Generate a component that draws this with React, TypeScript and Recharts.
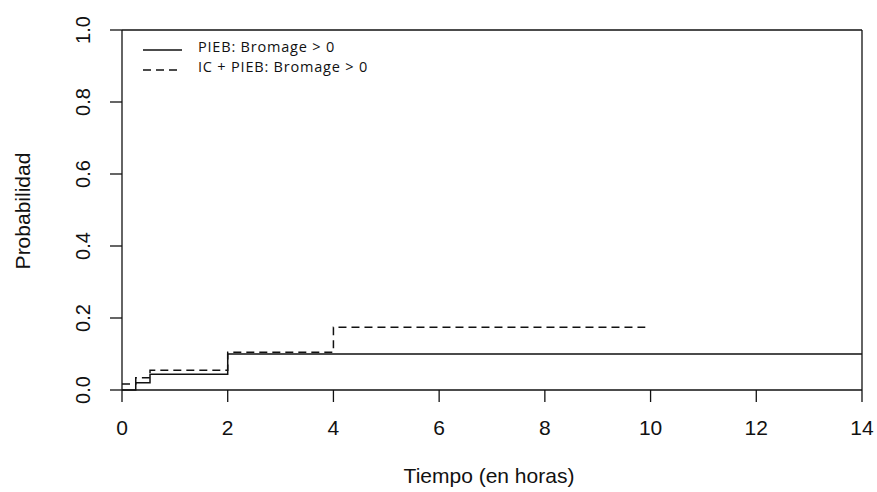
import React from 'react'
import { LineChart, Line, XAxis, YAxis, ReferenceLine, Legend } from 'recharts'

// Cumulative probability of Bromage > 0 over time (hours)
const piebTimes = [0, 0.26, 0.53, 2, 14]
const piebProb = [0, 0.02, 0.044, 0.1, 0.1]

const icPiebTimes = [0, 0.26, 0.53, 2, 4, 9.9]
const icPiebProb = [0.017, 0.034, 0.055, 0.105, 0.174, 0.174]

const seriesNames = ['PIEB: Bromage > 0', 'IC + PIEB: Bromage > 0']

const xTicks = [0, 2, 4, 6, 8, 10, 12, 14]
const yTicks = [0, 0.2, 0.4, 0.6, 0.8, 1.0]

const piebData = piebTimes.map((t, i) => ({ t, p: piebProb[i] }))
const icPiebData = icPiebTimes.map((t, i) => ({ t, p: icPiebProb[i] }))

const AXIS_FONT = 'Liberation Sans, Arial, sans-serif'
const INK = '#111'

const XTick = ({ x, y, payload }: any) => (
  <text x={x} y={y + 33} textAnchor="middle" fontSize={21} fontFamily={AXIS_FONT} fill={INK}>
    {payload.value}
  </text>
)

const YTick = ({ x, y, payload }: any) => (
  <text
    x={x - 20}
    y={y}
    transform={`rotate(-90, ${x - 20}, ${y})`}
    textAnchor="middle"
    fontSize={20}
    fontFamily={AXIS_FONT}
    fill={INK}
  >
    {Number(payload.value).toFixed(1)}
  </text>
)

const XTitle = () => (
  <text x={489} y={483} textAnchor="middle" fontSize={21} fontFamily={AXIS_FONT} fill={INK}>
    Tiempo (en horas)
  </text>
)

const YTitle = () => (
  <text x={30} y={211} transform="rotate(-90, 30, 211)" textAnchor="middle" fontSize={21} fontFamily={AXIS_FONT} fill={INK}>
    Probabilidad
  </text>
)

const LegendBox = ({ payload }: any) => {
  const items = [...(payload || [])].sort(
    (a: any, b: any) => seriesNames.indexOf(a.value) - seriesNames.indexOf(b.value)
  )
  return (
    <svg width={300} height={50}>
      {items.map((item: any, i: number) => (
        <g key={item.value} transform={`translate(0, ${i * 20})`}>
          <line
            x1={13}
            x2={52}
            y1={12}
            y2={12}
            stroke={INK}
            strokeWidth={1.4}
            strokeDasharray={item.payload?.strokeDasharray}
          />
          <text x={68} y={14} fontSize={14.5} letterSpacing={0.8} fontFamily="Open Sans, sans-serif" fill={INK}>
            {item.value}
          </text>
        </g>
      ))}
    </svg>
  )
}

export default function App() {
  return (
    <div style={{ position: 'absolute', left: 0, top: 0, background: '#fff' }}>
      <LineChart width={877} height={492} margin={{ top: 30, right: 15, bottom: 72, left: 0 }}>
        <XAxis
          type="number"
          dataKey="t"
          domain={[0, 14]}
          ticks={xTicks}
          allowDataOverflow
          height={30}
          tickSize={12}
          tickMargin={0}
          axisLine={{ stroke: INK, strokeWidth: 1.3 }}
          tickLine={{ stroke: INK, strokeWidth: 1.3 }}
          tick={<XTick />}
          label={<XTitle />}
        />
        <YAxis
          type="number"
          domain={[0, 1]}
          ticks={yTicks}
          width={122}
          tickSize={12}
          tickMargin={0}
          axisLine={{ stroke: INK, strokeWidth: 1.3 }}
          tickLine={{ stroke: INK, strokeWidth: 1.3 }}
          tick={<YTick />}
          label={<YTitle />}
        />
        <ReferenceLine y={1} stroke={INK} strokeWidth={1.3} />
        <ReferenceLine x={14} stroke={INK} strokeWidth={1.3} />
        <Legend
          layout="horizontal"
          verticalAlign="middle"
          align="center"
          wrapperStyle={{ left: 130, top: 38, width: 300 }}
          content={<LegendBox />}
        />
        <Line
          data={piebData}
          dataKey="p"
          name={seriesNames[0]}
          type="stepAfter"
          stroke={INK}
          strokeWidth={1.5}
          dot={false}
          isAnimationActive={false}
        />
        <Line
          data={icPiebData}
          dataKey="p"
          name={seriesNames[1]}
          type="stepAfter"
          stroke={INK}
          strokeWidth={1.5}
          strokeDasharray="8 5"
          dot={false}
          isAnimationActive={false}
        />
      </LineChart>
    </div>
  )
}
